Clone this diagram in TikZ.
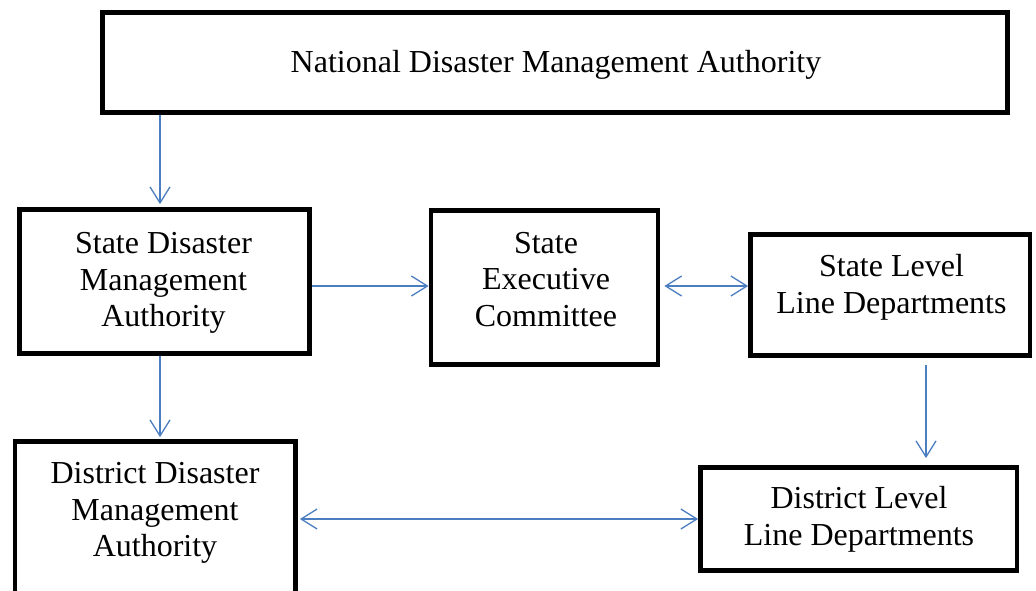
\documentclass[tikz,border=0pt]{standalone}
\usepackage{fontspec}
\setmainfont{Liberation Serif}
\usetikzlibrary{arrows.meta,calc}
\definecolor{arrblue}{RGB}{74,126,193}
\begin{document}
\begin{tikzpicture}[x=1pt,y=-1pt,
  box/.style={draw=black,line width=4.8pt,inner sep=0pt,fill=white},
  lbl/.style={font=\fontsize{32}{36.5}\selectfont,align=center,inner sep=0pt},
  arr/.style={draw=arrblue,line width=1.3pt,-{Straight Barb[length=16pt,width=20pt,line width=1.3pt]}},
  darr/.style={draw=arrblue,line width=1.3pt,{Straight Barb[length=16pt,width=20pt,line width=1.3pt]}-{Straight Barb[length=16pt,width=20pt,line width=1.3pt]}}]
\fill[white] (0,0) rectangle (1036,590);
\useasboundingbox (0,0) rectangle (1036,590);
% boxes
\node[box,minimum width=905pt,minimum height=100pt] (top) at (555,62.5) {};
\node[box,minimum width=290pt,minimum height=144pt] (sdma) at (164.5,281.5) {};
\node[box,minimum width=227pt,minimum height=154pt] (sec) at (544.5,287.5) {};
\node[box,minimum width=279.5pt,minimum height=121pt] (slld) at (890.25,295) {};
\node[box,minimum width=280.5pt,minimum height=168.5pt] (ddma) at (155.25,525.75) {};
\node[box,minimum width=316.5pt,minimum height=103pt] (dlld) at (858.75,519) {};
% labels
\node[lbl] (topT) at (556,65) {National Disaster Management Authority};
\node[lbl] (sdmaT) at (163.5,283) {State Disaster\\Management\\Authority};
\node[lbl] (secT) at (546,279.5) {State\\Executive\\Committee};
\node[lbl] (slldT) at (891.5,287.5) {State Level\\Line Departments};
\node[lbl] (ddmaT) at (155,513) {District Disaster\\Management\\Authority};
\node[lbl] (dlldT) at (859,519.5) {District Level\\Line Departments};
% guides
\coordinate (xa) at (160,0);
\coordinate (xb) at (926,0);
\coordinate (yc) at (0,286);
\coordinate (yd) at (0,519);
% connectors
\draw[arr,shorten >=3pt] (top.south -| xa) -- (sdma.north -| xa);
\draw[arr] (sdma.east |- yc) -- (sec.west |- yc);
\draw[arr,shorten >=2pt] (sdma.south -| xa) -- (ddma.north -| xa);
\draw[darr,shorten <=4pt] (sec.east |- yc) -- (slld.west |- yc);
\draw[arr,shorten <=7pt,shorten >=7pt] (slld.south -| xb) -- (dlld.north -| xb);
\draw[darr,shorten <=2pt] (ddma.east |- yd) -- (dlld.west |- yd);
\end{tikzpicture}
\end{document}
